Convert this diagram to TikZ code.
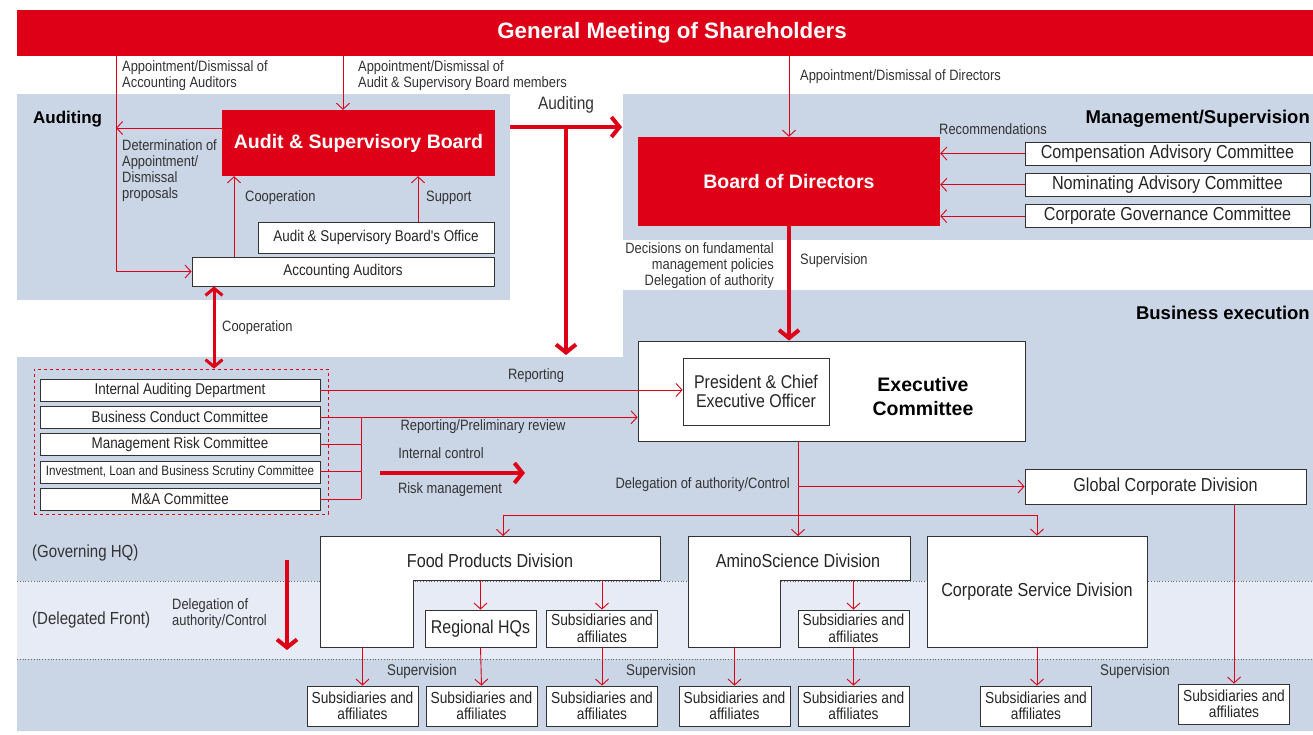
\documentclass[tikz,border=0pt]{standalone}
\usepackage{fontspec}
\setmainfont{Liberation Sans}
\newfontfamily\condfont[FakeStretch=0.86]{Liberation Sans}
\usetikzlibrary{arrows.meta,positioning}
\definecolor{corpred}{HTML}{DD0016}
\definecolor{zoneblue}{HTML}{CAD5E6}
\definecolor{zonelight}{HTML}{E6EBF5}
\definecolor{labelgray}{HTML}{333333}

\begin{document}
\begin{tikzpicture}[x=1pt,y=-1pt, node distance=4.5pt, every node/.style={inner sep=0pt}, redbox/.style={fill=corpred,text=white,font=\bfseries\fontsize{19.5}{22}\selectfont,align=center}, box/.style={draw=black!80,fill=white,line width=0.8pt,align=center,font=\condfont\fontsize{18.8}{19}\selectfont,text=black!85}, grpbox/.style={box,minimum width=280,minimum height=22,font=\condfont\fontsize{15.6}{17}\selectfont}, subbox/.style={box,minimum width=111,minimum height=40,font=\condfont\fontsize{16}{16.5}\selectfont}, lbl/.style={font=\condfont\fontsize{15}{16}\selectfont,text=labelgray,align=left}, head/.style={font=\bfseries\fontsize{18.5}{20}\selectfont}, arr/.style={draw=corpred,line width=0.9pt,-{Straight Barb[length=6pt,width=13pt]}}, ln/.style={draw=corpred,line width=0.9pt}, bigarr/.style={draw=corpred,line width=4pt,-{Straight Barb[length=8pt,width=20pt]}}]
\useasboundingbox (0,0) rectangle (1313,734);
% zones
\fill[zoneblue] (17,94) rectangle (510,300);
\fill[zoneblue] (623,94) rectangle (1313,240);
\fill[zoneblue] (17,357) -- (623,357) -- (623,290) -- (1313,290) -- (1313,731) -- (17,731) -- cycle;
\fill[zonelight] (17,581) rectangle (1313,659);
\draw[black!60,dotted,line width=0.8pt] (17,581) -- (1313,581) (17,659) -- (1313,659);
\node[head,font=\bfseries\fontsize{17}{20}\selectfont] at (33,119) [anchor=west] {Auditing};
\node[head] at (1310,119) [anchor=east] {Management/Supervision};
\node[head] at (1310,313) [anchor=east] {Business execution};

% top
\node[redbox,minimum width=1310,minimum height=46,font=\bfseries\fontsize{22.3}{24}\selectfont] (gm) at (672,33) {General Meeting of Shareholders};

% auditing
\node[redbox,minimum width=273,minimum height=66] (asb) at (358.5,143) {Audit \& Supervisory Board};
\node[grpbox,minimum width=236,minimum height=31] (office) at (376,237.5) {Audit \& Supervisory Board's Office};
\node[grpbox,minimum width=302,minimum height=29] (acc) at (343,271.5) {Accounting Auditors};
\coordinate (accline) at (116,0);
\coordinate (asbline) at (343,0);
\coordinate (coopline) at (234,0);
\coordinate (suppline) at (418,0);
\draw[arr] (gm.south -| accline) |- (acc.west);
\draw[arr] ([yshift=15pt]asb.west) -- ([yshift=15pt]asb.west -| accline);
\draw[arr] (gm.south -| asbline) -- (asb.north -| asbline);
\draw[arr,{Straight Barb[length=6pt,width=13pt]}-] (asb.south -| coopline) -- (acc.north -| coopline);
\draw[arr] (office.north -| suppline) -- (asb.south -| suppline);
\node[lbl,anchor=base west] at (122,87) {Appointment/Dismissal of\\Accounting Auditors};
\node[lbl,anchor=base west] at (358,87) {Appointment/Dismissal of\\Audit \& Supervisory Board members};
\node[lbl,anchor=base west] at (122,198) {Determination of\\Appointment/\\Dismissal\\proposals};
\node[lbl,anchor=west] at (245,198) {Cooperation};
\node[lbl,anchor=west] at (426,198) {Support};

% management / supervision
\node[redbox,minimum width=302,minimum height=89] (bod) at (789,181.5) {Board of Directors};
\node[box,minimum width=285,minimum height=23] (comp) at (1167.5,153.5) {Compensation Advisory Committee};
\node[box,minimum width=285,minimum height=23,below=7.5pt of comp] (nom) {Nominating Advisory Committee};
\node[box,minimum width=285,minimum height=23,below=7.5pt of nom] (cgc) {Corporate Governance Committee};
\draw[arr] (gm.south -| bod.north) -- (bod.north);
\foreach \c in {comp,nom,cgc} \draw[arr] (\c.west) -- (bod.east |- \c.west);
\node[lbl,anchor=base west] at (800,80) {Appointment/Dismissal of Directors};
\node[lbl] at (993,129) {Recommendations};

% auditing arrows
\coordinate (audS) at (510,127);
\coordinate (audE) at (622,127);
\coordinate (audD) at (566,355);
\draw[bigarr] (audS) -- (audE);
\draw[bigarr] (audD |- audS) -- (audD);
\node[lbl,font=\condfont\fontsize{18}{18}\selectfont] at (566,105) {Auditing};

% executive committee
\node[box,minimum width=387,minimum height=100] (exec) at (831.5,391) {};
\node[box,minimum width=146,minimum height=67,font=\condfont\fontsize{18.5}{19}\selectfont] (ceo) at (756,391.5) {President \& Chief\\Executive Officer};
\node[font=\bfseries\fontsize{19.5}{24}\selectfont,align=center] at (923,397) {Executive\\Committee};
\draw[bigarr] (bod.south) -- (bod.south |- exec.north);
\node[lbl,anchor=base east,align=right] at (774,285) {Decisions on fundamental\\management policies\\Delegation of authority};
\node[lbl,anchor=west] at (800,261) {Supervision};

% internal control group
\node[draw=corpred,dashed,line width=0.8pt,minimum width=294,minimum height=145] (grp) at (181,441.5) {};
\node[grpbox] (iad) at (180,390) {Internal Auditing Department};
\node[grpbox,below=of iad] (bcc) {Business Conduct Committee};
\node[grpbox,below=of bcc] (mrc) {Management Risk Committee};
\node[grpbox,below=of mrc,font=\condfont\fontsize{13.6}{14}\selectfont] (inv) {Investment, Loan and Business Scrutiny Committee};
\node[grpbox,below=of inv] (mna) {M\&A Committee};
\coordinate (coopline2) at (214,0);
\draw[draw=corpred,line width=3pt,{Straight Barb[length=7pt,width=17pt]}-{Straight Barb[length=7pt,width=17pt]}] (acc.south -| coopline2) -- (grp.north -| coopline2);
\node[lbl,anchor=west] at (222,328) {Cooperation};
\coordinate (brk) at (361,0);
\draw[arr] (iad.east) -- (ceo.west |- iad.east);
\draw[arr] (bcc.east) -- (exec.west |- bcc.east);
\draw[ln] (bcc.east -| brk) -- (mna.east -| brk);
\foreach \c in {mrc,inv,mna} \draw[ln] (\c.east) -- (\c.east -| brk);
\node[lbl] at (536,376) {Reporting};
\node[lbl] at (483,427) {Reporting/Preliminary review};
\coordinate (icS) at (380,473);
\coordinate (icE) at (525,473);
\draw[bigarr] (icS) -- (icE);
\node[lbl] at (441,453) {Internal control};
\node[lbl] at (450,490) {Risk management};

% divisions
\node[box,minimum width=281,minimum height=35] (gcd) at (1165.5,486.5) {Global Corporate Division};
\draw[box] (320,536) -- (660,536) -- (660,580) -- (413,580) -- (413,647) -- (320,647) -- cycle;
\node[box,draw=none,fill=none] (fpd) at (490,561) {Food Products Division};
\draw[box] (688,536) -- (910,536) -- (910,580) -- (780,580) -- (780,647) -- (688,647) -- cycle;
\node[box,draw=none,fill=none] (amd) at (798,561) {AminoScience Division};
\node[box,minimum width=220,minimum height=111] (csd) at (1037,591.5) {Corporate Service Division};
\node[box,minimum width=111,minimum height=37,font=\condfont\fontsize{18.5}{19}\selectfont] (rhq) at (480.5,628.5) {Regional HQs};
\node[subbox,minimum height=37] (fpsub) at (602,628.5) {Subsidiaries and\\affiliates};
\node[subbox,minimum height=37] (amsub) at (853.5,628.5) {Subsidiaries and\\affiliates};
\coordinate (fptop) at (503,536);
\coordinate (amtop) at (798,536);
\coordinate (distr) at (0,515);
\coordinate (divbot) at (0,580);
\coordinate (rowbot) at (0,647);
\draw[arr] (amtop |- exec.south) -- (amtop);
\draw[arr] (amtop |- gcd.west) -- (gcd.west);
\draw[arr] (amtop |- distr) -| (fptop);
\draw[arr] (amtop |- distr) -| (csd.north);
\node[lbl,anchor=east] at (790,485) {Delegation of authority/Control};
\foreach \c in {rhq,fpsub,amsub} \draw[arr] (\c.north |- divbot) -- (\c.north);

% affiliates row
\node[subbox] (s1) at (362.5,706) {Subsidiaries and\\affiliates};
\node[subbox] (s2) at (481.5,706) {Subsidiaries and\\affiliates};
\node[subbox] (s3) at (602,706) {Subsidiaries and\\affiliates};
\node[subbox] (s4) at (734.5,706) {Subsidiaries and\\affiliates};
\node[subbox] (s5) at (853.5,706) {Subsidiaries and\\affiliates};
\node[subbox] (s6) at (1036,706) {Subsidiaries and\\affiliates};
\node[subbox] (s7) at (1234,704) {Subsidiaries and\\affiliates};
\draw[arr] (s1.north |- rowbot) -- (s1.north);
\draw[arr] (rhq.south) -- (s2.north);
\draw[arr] (fpsub.south) -- (s3.north);
\draw[arr] (s4.north |- rowbot) -- (s4.north);
\draw[arr] (amsub.south) -- (s5.north);
\draw[arr] (csd.south |- rowbot) -- (csd.south |- s6.north);
\draw[arr] (gcd.south -| s7.north) -- (s7.north);
\foreach \x in {422,661,1135} \node[lbl,font=\condfont\fontsize{15.5}{16}\selectfont] at (\x,671) {Supervision};

% governing / delegated
\node[lbl,font=\condfont\fontsize{17.5}{18}\selectfont,anchor=west] at (32,553) {(Governing HQ)};
\node[lbl,font=\condfont\fontsize{17.5}{18}\selectfont,anchor=west] at (32,620) {(Delegated Front)};
\node[lbl,anchor=base west] at (172,625) {Delegation of\\authority/Control};
\coordinate (delS) at (287,560);
\coordinate (delE) at (287,650);
\draw[bigarr] (delS) -- (delE);
\end{tikzpicture}
\end{document}
